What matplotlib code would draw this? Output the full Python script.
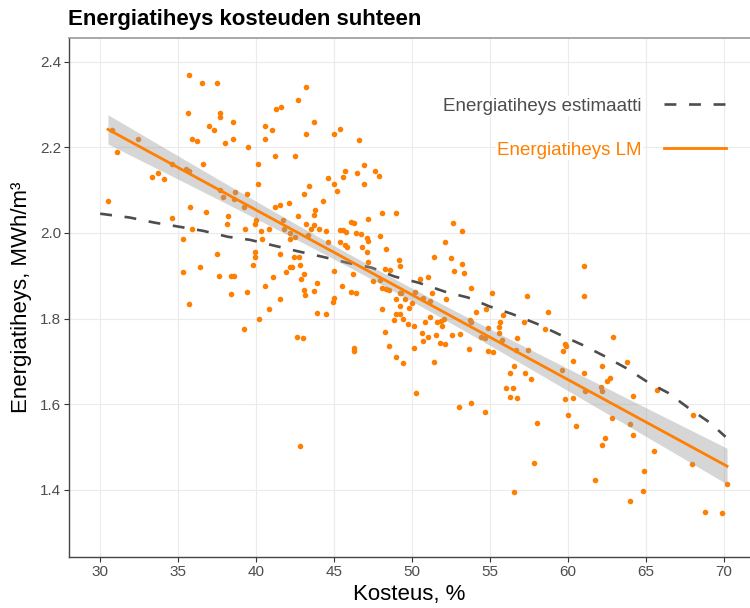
import numpy as np
import matplotlib
matplotlib.use('Agg')
import matplotlib.pyplot as plt

plt.rcParams['font.family'] = ['Liberation Sans', 'DejaVu Sans']

# mittaukset: kosteus (%) ja energiatiheys (MWh/m3)
kosteus = [
    35.7, 36.5, 37.5, 43.2, 42.7, 41.3, 41.6, 35.6, 37.7, 37.7, 38.5, 37.0, 37.3, 40.6, 41.0, 43.7,
    43.2, 30.75, 35.9, 36.2, 38.5, 38.0, 40.6, 32.4, 31.1, 39.5, 41.2, 42.5, 36.6, 40.1, 34.6, 35.5,
    35.7, 33.3, 33.7, 34.1, 40.1, 43.4, 43.1, 30.5, 37.7, 37.9, 38.65, 38.6, 39.4, 39.2, 42.1, 41.5,
    41.2, 35.75, 36.8, 34.6, 38.2, 42.7, 40.0, 39.9, 38.1, 41.7, 41.8, 43.2, 43.5, 35.9, 39.3, 40.3,
    40.85, 42.2, 35.3, 40.4, 42.2, 42.5, 37.5, 39.9, 39.9, 41.5, 42.4, 42.75, 36.4, 39.8, 42.8, 35.3,
    37.6, 38.4, 38.6, 42.15, 42.3, 41.9, 41.1, 43.1, 42.9, 40.6, 38.4, 39.4, 41.5, 43.1, 43.15, 43.7,
    35.7, 40.8, 40.2, 39.2, 42.6, 43.0, 43.9, 42.8,
    45.0, 45.4, 46.6, 46.9, 46.5, 47.6, 47.9, 45.7, 45.6, 44.6, 45.0, 45.2, 46.9, 44.3, 43.8, 43.7,
    48.1, 49.0, 47.2, 43.7, 44.0, 44.5, 45.4, 45.6, 45.75, 46.1, 46.25, 46.4, 46.7, 47.95, 47.1, 47.2,
    43.35, 44.6, 45.4, 45.7, 45.8, 46.8, 48.3, 47.1, 52.65, 53.2, 52.1, 51.4, 52.5, 53.2, 52.7, 53.35,
    53.8, 55.1, 49.15, 49.2, 47.2, 48.25, 48.6, 45.0, 46.2, 47.5, 47.95, 48.1, 43.9, 45.5, 46.1, 46.4,
    45.0, 44.9, 48.3, 48.55, 49.2, 49.3, 49.0, 49.55, 50.2, 50.5, 51.0, 50.7, 51.3, 52.15,
    44.5, 46.25, 46.3, 48.1, 49.2, 49.0, 49.2, 49.4, 48.85, 49.8, 50.0, 48.25, 48.5, 49.0, 49.4, 49.75,
    50.15, 50.1, 50.25, 51.15, 50.85, 51.15, 50.65, 51.0, 50.7, 51.6, 51.85, 51.95, 52.05, 51.55, 51.8,
    52.1, 52.55, 53.05, 51.4, 53.0, 53.75, 54.7, 53.65, 53.7, 53.8, 54.1, 54.75, 54.9, 54.4, 54.7,
    54.85, 55.2, 55.65, 55.8, 55.6, 55.6, 55.75, 56.75, 56.55, 56.3, 56.0, 56.5, 56.3, 56.7, 56.55,
    61.05, 61.05, 57.4, 58.7, 57.2, 58.5, 56.65, 57.45, 59.8, 59.85, 59.7, 62.9, 60.3, 61.05, 62.15,
    63.8, 59.6, 57.25, 57.6, 62.5, 62.7, 62.1, 62.2, 61.1, 65.7, 59.8, 60.3, 64.15, 58.0, 60.0, 60.5,
    62.8, 63.95, 64.15, 68.0, 62.4, 62.15, 65.5, 57.8, 67.95, 64.9, 61.7, 70.2, 64.8, 63.95, 68.8, 69.85,
]
energiatiheys = [
    2.37, 2.35, 2.35, 2.34, 2.31, 2.29, 2.295, 2.28, 2.28, 2.27, 2.26, 2.25, 2.24, 2.25, 2.24, 2.26,
    2.23, 2.24, 2.22, 2.215, 2.22, 2.21, 2.22, 2.22, 2.19, 2.20, 2.18, 2.18, 2.16, 2.16, 2.16, 2.15,
    2.145, 2.13, 2.14, 2.125, 2.115, 2.11, 2.09, 2.075, 2.10, 2.085, 2.095, 2.08, 2.09, 2.06, 2.07, 2.065,
    2.06, 2.06, 2.05, 2.035, 2.04, 2.04, 2.03, 2.02, 2.02, 2.03, 2.01, 2.02, 2.01, 2.01, 2.01, 2.005,
    2.01, 2.00, 1.985, 1.985, 1.985, 1.99, 1.95, 1.955, 1.945, 1.95, 1.945, 1.943, 1.92, 1.925, 1.925, 1.91,
    1.90, 1.90, 1.899, 1.92, 1.92, 1.91, 1.898, 1.905, 1.893, 1.875, 1.857, 1.862, 1.846, 1.867, 1.854, 1.864,
    1.833, 1.822, 1.80, 1.775, 1.758, 1.754, 1.813, 1.503,
    2.232, 2.243, 2.218, 2.159, 2.14, 2.145, 2.133, 2.145, 2.131, 2.128, 2.114, 2.099, 2.114, 2.074, 2.054, 2.042,
    2.047, 2.047, 2.033, 2.018, 2.01, 2.005, 2.006, 2.006, 2.002, 2.025, 2.023, 2.00, 1.997, 1.993, 1.989, 1.981,
    1.996, 1.978, 1.98, 1.972, 1.968, 1.968, 1.963, 1.955, 2.023, 2.004, 1.979, 1.945, 1.941, 1.928, 1.912, 1.906,
    1.872, 1.86, 1.938, 1.924, 1.933, 1.917, 1.914, 1.912, 1.905, 1.887, 1.89, 1.871, 1.883, 1.877, 1.862, 1.86,
    1.848, 1.839, 1.869, 1.866, 1.86, 1.86, 1.846, 1.846, 1.862, 1.893, 1.898, 1.848, 1.86, 1.846,
    1.81, 1.724, 1.731, 1.822, 1.83, 1.811, 1.81, 1.799, 1.797, 1.825, 1.836, 1.768, 1.737, 1.711, 1.697, 1.787,
    1.782, 1.732, 1.626, 1.84, 1.792, 1.803, 1.766, 1.758, 1.747, 1.792, 1.795, 1.782, 1.80, 1.761, 1.744,
    1.74, 1.761, 1.765, 1.699, 1.593, 1.604, 1.581, 1.73, 1.796, 1.791, 1.815, 1.822, 1.778, 1.758, 1.754,
    1.725, 1.722, 1.793, 1.808, 1.78, 1.766, 1.749, 1.754, 1.69, 1.673, 1.638, 1.638, 1.617, 1.614, 1.394,
    1.924, 1.853, 1.853, 1.815, 1.792, 1.775, 1.727, 1.727, 1.74, 1.737, 1.725, 1.756, 1.701, 1.673, 1.69,
    1.699, 1.68, 1.673, 1.659, 1.654, 1.661, 1.641, 1.631, 1.632, 1.633, 1.612, 1.614, 1.619, 1.557, 1.574, 1.55,
    1.567, 1.555, 1.528, 1.574, 1.522, 1.505, 1.491, 1.462, 1.46, 1.444, 1.423, 1.413, 1.398, 1.373, 1.349, 1.346,
]

# estimaattikayra
est_kosteus = [30.0, 31.9, 33.5, 35.0, 36.6, 38.2, 39.6, 41.2, 42.7, 44.3, 45.9, 47.4, 48.9, 50.4,
               52.1, 53.6, 55.0, 56.4, 58.0, 59.5, 60.9, 62.2, 63.7, 65.1, 66.4, 67.7, 69.1, 70.1]
est_energia = [2.045, 2.036, 2.024, 2.015, 2.005, 1.991, 1.984, 1.970, 1.957, 1.944, 1.930, 1.919, 1.898, 1.884,
               1.863, 1.849, 1.828, 1.811, 1.788, 1.762, 1.739, 1.715, 1.685, 1.652, 1.627, 1.592, 1.557, 1.524]

x_ticks = [30, 35, 40, 45, 50, 55, 60, 65, 70]
y_ticks = [1.4, 1.6, 1.8, 2.0, 2.2, 2.4]

orange = '#ff7f00'
dark = '#4d4d4d'

x = np.array(kosteus)
y = np.array(energiatiheys)

# lineaarinen malli + 95 % luottamusvali
b1, b0 = np.polyfit(x, y, 1)
n = len(x)
resid = y - (b0 + b1 * x)
s = np.sqrt(np.sum(resid ** 2) / (n - 2))
sxx = np.sum((x - x.mean()) ** 2)
xf = np.linspace(x.min(), x.max(), 80)
yf = b0 + b1 * xf
se = s * np.sqrt(1 / n + (xf - x.mean()) ** 2 / sxx)
t = 1.969

fig = plt.figure(figsize=(7.5, 6.08), dpi=100)
ax = fig.add_axes([0.092, 0.084, 0.908, 0.854])

ax.scatter(x, y, s=16, color=orange, linewidths=0, zorder=2)
ax.plot(est_kosteus, est_energia, color=dark, lw=1.9, dashes=(4.5, 4.8),
        label='Energiatiheys estimaatti', zorder=3)
ax.fill_between(xf, yf - t * se, yf + t * se, color='#999999', alpha=0.4, lw=0, zorder=4)
ax.plot(xf, yf, color=orange, lw=2.0, label='Energiatiheys LM', zorder=5)

ax.set_xlim(28.0, 71.67)
ax.set_ylim(1.2435, 2.456)
ax.set_xticks(x_ticks)
ax.set_yticks(y_ticks)
ax.set_yticklabels([f'{v:.1f}' for v in y_ticks])
ax.grid(color='#ebebeb', lw=0.8)
ax.set_axisbelow(True)
ax.tick_params(labelsize=11, labelcolor=dark, color='#333333', length=3.5, width=0.8, pad=2)

ax.spines['right'].set_visible(False)
ax.spines['top'].set_color('#999999')
ax.spines['top'].set_linewidth(1.2)
for side in ['left', 'bottom']:
    ax.spines[side].set_color('#444444')
    ax.spines[side].set_linewidth(1.0)

ax.set_xlabel('Kosteus, %', fontsize=16, labelpad=4)
ax.set_ylabel('Energiatiheys, MWh/m³', fontsize=16, labelpad=6)
fig.text(0.091, 0.968, 'Energiatiheys kosteuden suhteen', fontsize=16, fontweight='bold', va='center')

leg = ax.legend(loc='upper right', bbox_to_anchor=(0.99, 0.917), frameon=False, markerfirst=False,
                fontsize=13.5, handlelength=3.3, handletextpad=1.2, labelspacing=1.42)
for txt, col in zip(leg.get_texts(), [dark, orange]):
    txt.set_color(col)
    txt.set_bbox(dict(facecolor='white', edgecolor='none', pad=1))

plt.savefig('out.png', dpi=100)
